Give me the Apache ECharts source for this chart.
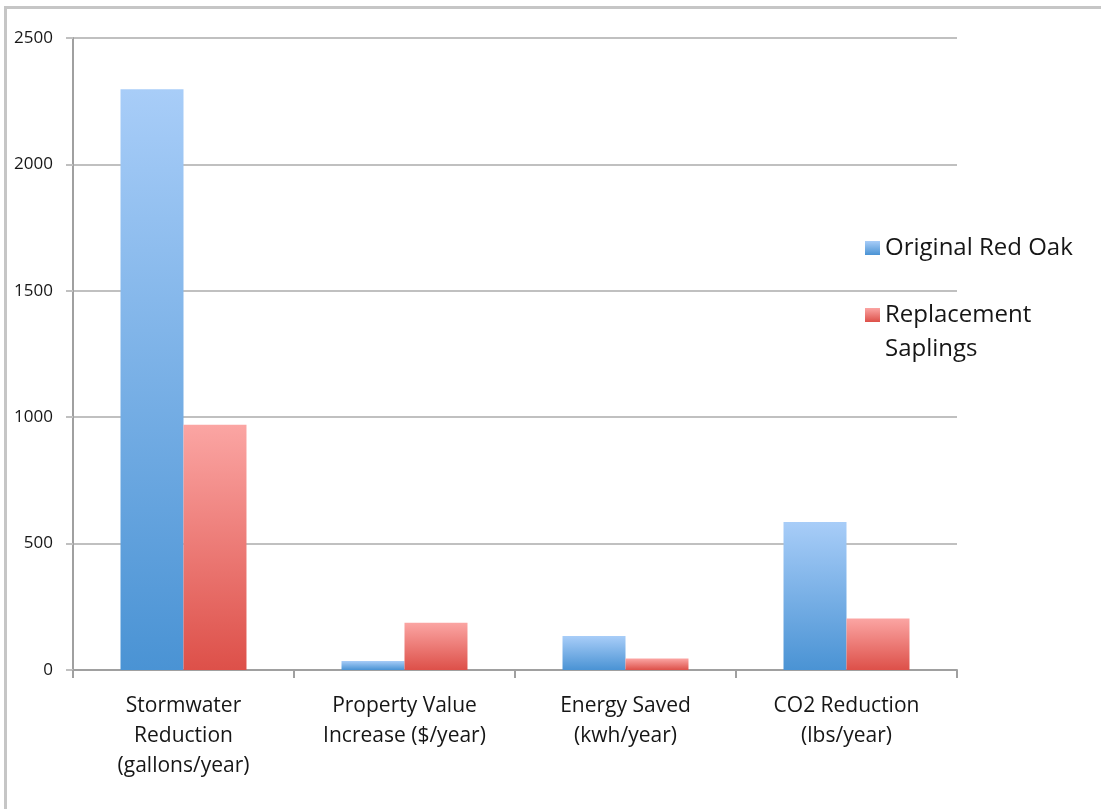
<!DOCTYPE html>
<html>
<head>
<meta charset="utf-8">
<script src="https://cdn.jsdelivr.net/npm/echarts@6/dist/echarts.min.js"></script>
<style>
  html, body { margin: 0; padding: 0; background: #fff; }
  #frame { position: absolute; left: 4px; top: 6px; right: 0; bottom: 0;
           border-top: 3px solid #c6c6c6; border-left: 3px solid #c6c6c6; }
  #chart { position: absolute; left: 0; top: 0; width: 1101px; height: 809px; }
</style>
</head>
<body>
<div id="frame"></div>
<div id="chart"></div>
<script>
const categories = [
  'Stormwater\nReduction\n(gallons/year)',
  'Property Value\nIncrease ($/year)',
  'Energy Saved\n(kwh/year)',
  'CO2 Reduction\n(lbs/year)'
]
const originalRedOak = [2297, 36, 134, 585]
const replacementSaplings = [970, 187, 45, 204]
const yTicks = { min: 0, max: 2500, interval: 500 }

const chart = echarts.init(document.getElementById('chart'))

const blueFill = new echarts.graphic.LinearGradient(0, 0, 0, 1, [
  { offset: 0, color: '#a8cdf8' },
  { offset: 1, color: '#4a93d4' }
])
const redFill = new echarts.graphic.LinearGradient(0, 0, 0, 1, [
  { offset: 0, color: '#fba5a3' },
  { offset: 1, color: '#dd5049' }
])
const textColor = '#161616'
const font = '"Open Sans"'

const option = {
  backgroundColor: 'transparent',
  animation: false,
  grid: { left: 73, right: 144, top: 38, bottom: 139 },
  legend: [
    {
      left: 860,
      top: 231,
      icon: 'rect',
      itemWidth: 15,
      itemHeight: 14,
      itemGap: 8,
      data: ['Original Red Oak'],
      textStyle: { fontFamily: font, fontSize: 24, color: textColor }
    },
    {
      left: 860,
      top: 259,
      icon: 'rect',
      itemWidth: 15,
      itemHeight: 14,
      data: ['Replacement Saplings'],
      // blank first line keeps the swatch level with "Replacement"
      formatter: () => ' \nReplacement\nSaplings',
      textStyle: { fontFamily: font, fontSize: 24, color: textColor, lineHeight: 34 }
    }
  ],
  xAxis: {
    type: 'category',
    data: categories,
    axisLine: { lineStyle: { color: '#a0a0a0', width: 2 } },
    axisTick: { show: true, length: 8, lineStyle: { color: '#a0a0a0', width: 2 } },
    axisLabel: {
      fontFamily: font, fontSize: 21, color: textColor, lineHeight: 30,
      margin: 21, interval: 0
    }
  },
  yAxis: {
    type: 'value',
    min: yTicks.min,
    max: yTicks.max,
    interval: yTicks.interval,
    axisLine: { show: true, lineStyle: { color: '#a0a0a0', width: 2 } },
    axisTick: { show: true, length: 7, lineStyle: { color: '#c0c0c0', width: 2 } },
    splitLine: { lineStyle: { color: '#c0c0c0', width: 2 } },
    axisLabel: {
      fontFamily: font, fontSize: 17, color: textColor, margin: 20,
      formatter: v => String(v)
    }
  },
  series: [
    {
      name: 'Original Red Oak',
      type: 'bar',
      data: originalRedOak,
      barGap: '0%',
      barCategoryGap: '43%',
      itemStyle: { color: blueFill }
    },
    {
      name: 'Replacement Saplings',
      type: 'bar',
      data: replacementSaplings,
      barGap: '0%',
      barCategoryGap: '43%',
      itemStyle: { color: redFill }
    }
  ]
}

chart.setOption(option)
</script>
</body>
</html>
